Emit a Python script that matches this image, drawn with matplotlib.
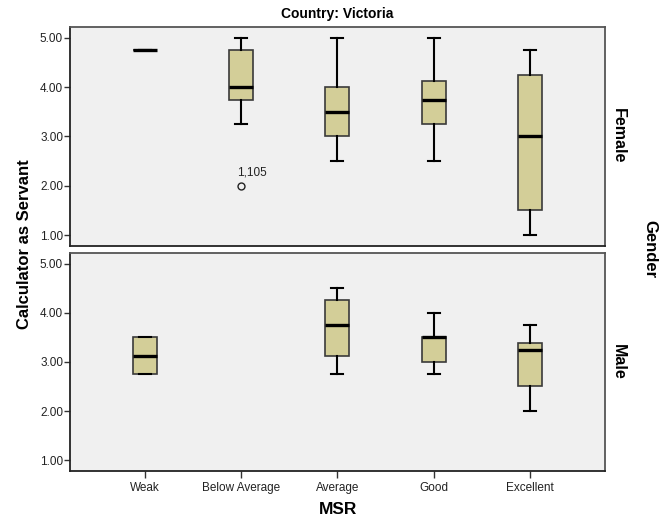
import matplotlib
matplotlib.use("Agg")
import matplotlib.pyplot as plt

plt.rcParams['font.family'] = ['Liberation Sans', 'DejaVu Sans']

categories = ["Weak", "Below Average", "Average", "Good", "Excellent"]
yticks = [1.0, 2.0, 3.0, 4.0, 5.0]

# Female panel: whisker low, Q1, median, Q3, whisker high
female_whislo = [4.75, 3.25, 2.5, 2.5, 1.0]
female_q1 = [4.75, 3.75, 3.0, 3.25, 1.5]
female_med = [4.75, 4.0, 3.5, 3.75, 3.0]
female_q3 = [4.75, 4.75, 4.0, 4.125, 4.25]
female_whishi = [4.75, 5.0, 5.0, 5.0, 4.75]
female_fliers = [[], [2.0], [], [], []]
female_flier_labels = [[], ["1,105"], [], [], []]

# Male panel (no Below Average cases)
male_cats = ["Weak", "Average", "Good", "Excellent"]
male_whislo = [2.75, 2.75, 2.75, 2.0]
male_q1 = [2.75, 3.125, 3.0, 2.5]
male_med = [3.125, 3.75, 3.5, 3.25]
male_q3 = [3.5, 4.25, 3.5, 3.375]
male_whishi = [3.5, 4.5, 4.0, 3.75]
male_fliers = [[], [], [], []]

BOX = "#D3CE98"
BG = "#F0F0F0"
EDGE = "#3a3a3a"

fig = plt.figure(figsize=(6.59, 5.23), dpi=100)
ax1 = fig.add_axes([70/659, 1-246/523, 535/659, 219/523])
ax2 = fig.add_axes([70/659, 1-471/523, 535/659, 218.3/523])


def draw(ax, cats, lo, q1, med, q3, hi, fl):
    stats = []
    pos = []
    for c, a, b, m, d, e, f in zip(cats, lo, q1, med, q3, hi, fl):
        stats.append(dict(whislo=a, q1=b, med=m, q3=d, whishi=e, fliers=f))
        pos.append(categories.index(c))
    ax.bxp(stats, positions=pos, widths=0.25, capwidths=0.125,
           patch_artist=True, showfliers=True,
           boxprops=dict(facecolor=BOX, edgecolor=EDGE, linewidth=1.2),
           medianprops=dict(color="black", linewidth=2.4, solid_capstyle="butt"),
           whiskerprops=dict(color="black", linewidth=1.5),
           capprops=dict(color="black", linewidth=1.5),
           flierprops=dict(marker="o", markerfacecolor="none",
                           markeredgecolor="#222222", markersize=5,
                           markeredgewidth=1.0))
    ax.set_facecolor(BG)
    ax.set_xlim(-0.775, 4.78)
    ax.set_ylim(0.78, 5.22)
    ax.set_yticks(yticks)
    ax.set_yticklabels([f"{v:.2f}" for v in yticks], fontsize=8.5, color="#222222")
    ax.tick_params(axis='y', length=4, width=1, color="#333333", pad=1)
    for s in ax.spines.values():
        s.set_color("#555555")
        s.set_linewidth(1.3)
    ax.spines['left'].set_color("#222222")
    ax.spines['bottom'].set_color("#222222")


draw(ax1, categories, female_whislo, female_q1, female_med, female_q3,
     female_whishi, female_fliers)
draw(ax2, male_cats, male_whislo, male_q1, male_med, male_q3,
     male_whishi, male_fliers)

for i, (vals, labs) in enumerate(zip(female_fliers, female_flier_labels)):
    for v, t in zip(vals, labs):
        ax1.annotate(t, (i, v), xytext=(-3, 5), textcoords="offset points",
                     fontsize=8.5, color="#222222", ha="left", va="bottom")

ax1.set_xticks([])
ax2.set_xticks(range(len(categories)))
ax2.set_xticklabels(categories, fontsize=8.5, color="#222222")
ax2.tick_params(axis='x', length=5, width=1, color="#333333", pad=3)

fig.text(337/659, 1-14/523, "Country: Victoria", ha="center", va="center",
         fontsize=10, fontweight="bold")
fig.text(25/659, 1-244/523, "Calculator as Servant", ha="center", va="center",
         rotation=90, fontsize=12, fontweight="bold")
fig.text(338/659, 1-509/523, "MSR", ha="center", va="center",
         fontsize=12.5, fontweight="bold")
fig.text(618/659, 1-136/523, "Female", ha="center", va="center",
         rotation=-90, fontsize=11.5, fontweight="bold")
fig.text(618/659, 1-362/523, "Male", ha="center", va="center",
         rotation=-90, fontsize=11.5, fontweight="bold")
fig.text(650/659, 1-249/523, "Gender", ha="center", va="center",
         rotation=-90, fontsize=12, fontweight="bold")

fig.savefig("out.png", dpi=100, facecolor="white")
